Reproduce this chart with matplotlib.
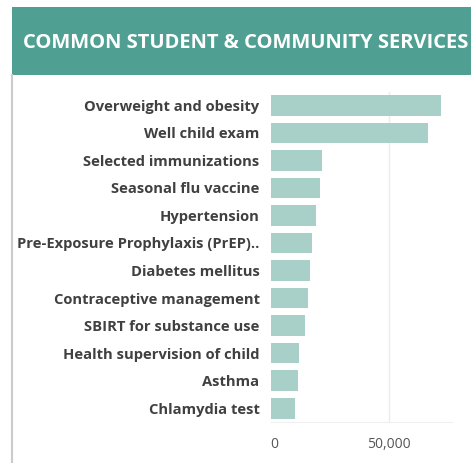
import matplotlib
matplotlib.use("Agg")
import matplotlib.pyplot as plt
from matplotlib.patches import Rectangle
from matplotlib.lines import Line2D
from matplotlib.ticker import FuncFormatter

categories = [
    "Overweight and obesity",
    "Well child exam",
    "Selected immunizations",
    "Seasonal flu vaccine",
    "Hypertension",
    "Pre-Exposure Prophylaxis (PrEP)..",
    "Diabetes mellitus",
    "Contraceptive management",
    "SBIRT for substance use",
    "Health supervision of child",
    "Asthma",
    "Chlamydia test",
]
values = [71700, 66200, 21500, 20800, 19200, 17500, 16600, 15900, 14300, 12100, 11500, 10400]
x_ticks = [0, 50000]
title = "COMMON STUDENT & COMMUNITY SERVICES"

W, H = 471, 463
fig = plt.figure(figsize=(W / 100, H / 100), dpi=100)
fig.patch.set_facecolor("white")

def fx(px):
    return px / W

def fy(py):
    return 1 - py / H

# header band
fig.patches.append(Rectangle((fx(12), fy(75)), fx(471) - fx(12), fy(7) - fy(75),
                             transform=fig.transFigure, facecolor="#4FA093",
                             edgecolor="none", zorder=0))
# left border line
fig.lines.append(Line2D([fx(12), fx(12)], [fy(75), fy(463)], transform=fig.transFigure,
                        color="#CBCBCB", linewidth=1.5))
fig.text(fx(23), fy(42.5), title, color="white", fontsize=14.5, fontweight="bold",
         family="Open Sans", va="center", ha="left")

ax = fig.add_axes([fx(270.7), fy(421.95), fx(451.7) - fx(270.7), fy(91.55) - fy(421.95)])
ypos = list(range(len(categories)))
ax.barh(ypos, values, height=0.75, color="#A9CFC9", zorder=2)
ax.set_ylim(len(categories) - 0.5, -0.5)
ax.set_xlim(0, 76300)
ax.set_yticks(ypos)
ax.set_yticklabels(categories, fontsize=10.6, fontweight="bold", family="Open Sans", color="#404040")
ax.set_xticks(x_ticks)
ax.xaxis.set_major_formatter(FuncFormatter(lambda v, p: f"{int(v):,}"))
ax.tick_params(axis="x", length=0, labelsize=10, labelcolor="#555555", pad=11)
ax.tick_params(axis="y", length=0, pad=8)
for lbl in ax.get_xticklabels():
    lbl.set_family("Open Sans")
ax.get_xticklabels()[0].set_horizontalalignment("left")
for s in ["top", "right", "left"]:
    ax.spines[s].set_visible(False)
ax.spines["bottom"].set_color("#EFEFEF")
ax.axvline(50000, color="#EBEBEB", linewidth=1, zorder=1)

fig.savefig("out.png", dpi=100)
